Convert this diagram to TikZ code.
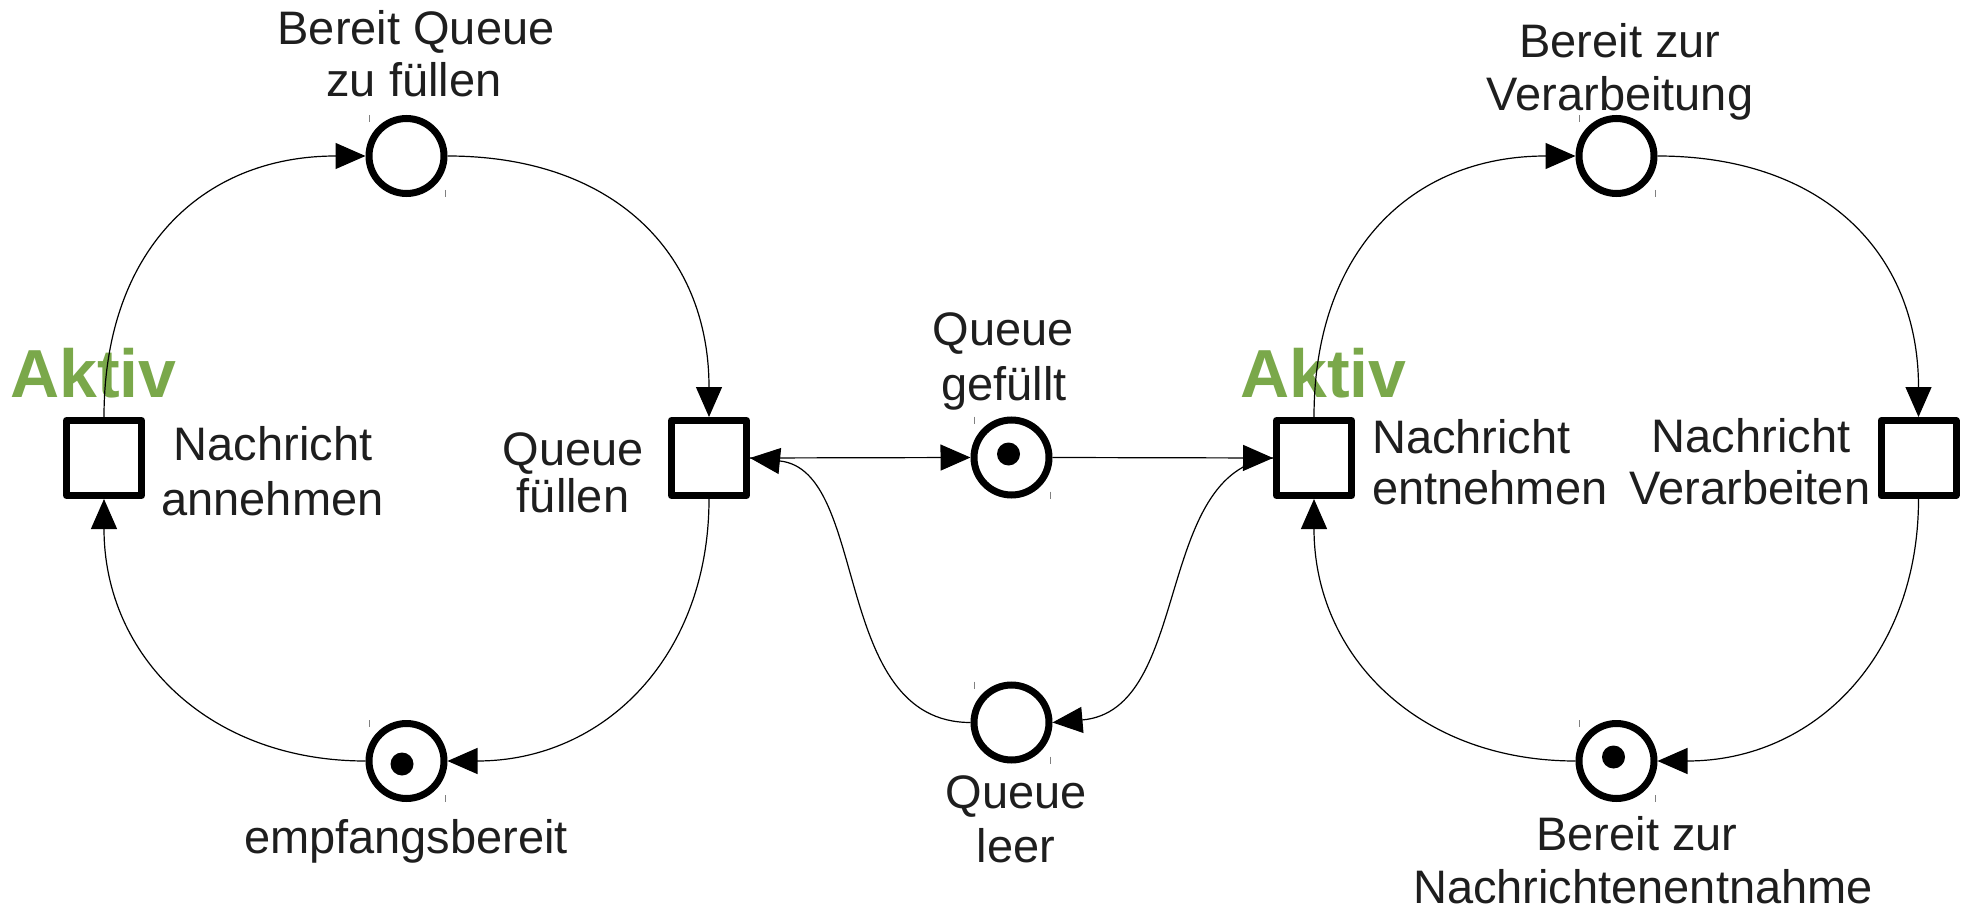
\documentclass[tikz,border=0pt]{standalone}
\usepackage{fontspec}
\setmainfont{Liberation Sans}
\usetikzlibrary{arrows.meta}
\definecolor{aktivgreen}{RGB}{122,168,74}
\definecolor{txt}{RGB}{30,30,30}
\begin{document}
\begin{tikzpicture}[x=1pt,y=-1pt,
  place/.style={circle, draw, line width=7pt, minimum size=75pt, inner sep=0pt},
  trans/.style={rectangle, draw, line width=7pt, minimum size=75pt, inner sep=0pt, line join=round},
  token/.style={circle, fill, minimum size=23pt, inner sep=0pt},
  arc/.style={line width=1.2pt, -{Triangle[length=30pt,width=26pt]}},
  lbl/.style={inner sep=0pt, anchor=base, font=\fontsize{47pt}{54pt}\selectfont, text=txt},
  aktiv/.style={inner sep=0pt, anchor=base west, font=\fontsize{68pt}{70pt}\selectfont\bfseries, text=aktivgreen},
  tick/.style={gray, line width=1pt}]
\fill[white] (0,0) rectangle (1965,909);
\useasboundingbox (0,0) rectangle (1965,909);

% labels
\node[aktiv] (ak1) at (10,397) {Aktiv};
\node[aktiv] (ak2) at (1240,397) {Aktiv};
\node[lbl] (l1a) at (416,45) {Bereit Queue};
\node[lbl] (l1b) at (414,97) {zu füllen};
\node[lbl] (l2a) at (1620,58) {Bereit zur};
\node[lbl] (l2b) at (1620,111) {Verarbeitung};
\node[lbl] (l3a) at (1003,345) {Queue};
\node[lbl] (l3b) at (1004,400) {gefüllt};
\node[lbl] (l4a) at (273,460) {Nachricht};
\node[lbl] (l4b) at (272.5,515) {annehmen};
\node[lbl] (l5a) at (573,465) {Queue};
\node[lbl] (l5b) at (573,512) {füllen};
\node[lbl,anchor=base west] (l6a) at (1372,453) {Nachricht};
\node[lbl,anchor=base west] (l6b) at (1372,504) {entnehmen};
\node[lbl] (l7a) at (1751,452) {Nachricht};
\node[lbl] (l7b) at (1750,504) {Verarbeiten};
\node[lbl] (l8) at (406,853) {empfangsbereit};
\node[lbl] (l9a) at (1016,808) {Queue};
\node[lbl] (l9b) at (1016,862) {leer};
\node[lbl] (l10a) at (1637,850) {Bereit zur};
\node[lbl] (l10b) at (1643,903) {Nachrichtenentnahme};

% places
\node[place] (pbq) at (406.5,156) {};
\node[place] (pemp) at (406.5,761) {};
\node[place] (pgef) at (1011.5,457.5) {};
\node[place] (pleer) at (1011.5,722.5) {};
\node[place] (pbv) at (1616.5,156) {};
\node[place] (pbn) at (1616.5,761) {};
% tokens
\node[token] (k1) at (402,764) {};
\node[token] (k2) at (1008.5,454) {};
\node[token] (k3) at (1613.5,757) {};
% transitions
\node[trans] (tann) at (104,458) {};
\node[trans] (tfue) at (709,458) {};
\node[trans] (tent) at (1314,458) {};
\node[trans] (tver) at (1918.5,458) {};

% small marks
\foreach \cx/\cy in {406.5/156, 1011.5/457.5, 406.5/761, 1011.5/722.5, 1616.5/156, 1616.5/761} {
  \draw[tick] (\cx-37.5,\cy-41) -- ++(0,7);
  \draw[tick] (\cx+38.5,\cy+34) -- ++(0,7);
}

% left loop
\draw[arc] (tann.north) .. controls +(0,-165) and +(-165,0) .. (pbq.west);
\draw[arc] (pbq.east) .. controls +(165,0) and +(0,-165) .. (tfue.north);
\draw[arc] (tfue.south) .. controls +(0,157) and +(157,0) .. (pemp.east);
\draw[arc] (pemp.west) .. controls +(-157,0) and +(0,157) .. (tann.south);
% middle
\draw[arc] (tfue.east) -- (pgef.west);
\draw[arc] (pgef.east) -- (tent.west);
\draw[arc] (pleer.west) .. controls +(-140,0) and +(120,12) .. (tfue.east);
\draw[arc] (tent.west) .. controls +(-120,12) and +(140,-12) .. (pleer.east);
% right loop
\draw[arc] (tent.north) .. controls +(0,-165) and +(-165,0) .. (pbv.west);
\draw[arc] (pbv.east) .. controls +(165,0) and +(0,-165) .. (tver.north);
\draw[arc] (tver.south) .. controls +(0,157) and +(157,0) .. (pbn.east);
\draw[arc] (pbn.west) .. controls +(-157,0) and +(0,157) .. (tent.south);
\end{tikzpicture}
\end{document}
